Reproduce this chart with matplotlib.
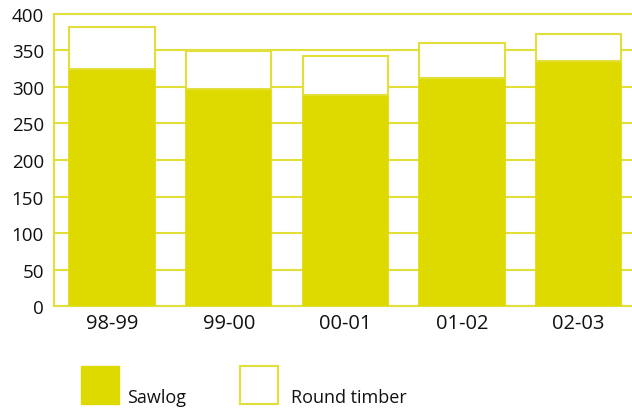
import matplotlib
matplotlib.use("Agg")
import matplotlib.pyplot as plt
from matplotlib.patches import Rectangle

seasons = ["98-99", "99-00", "00-01", "01-02", "02-03"]
sawlog = [324, 297, 289, 312, 335]
round_timber = [58, 52, 53, 48, 37]

yellow = "#DEDA00"
line = "#E3DF3A"

plt.rcParams["font.family"] = ["Open Sans", "DejaVu Sans"]

fig = plt.figure(figsize=(6.32, 4.10), dpi=100)
ax = fig.add_axes([0.085, 0.2505, 0.923, 0.7135])

x = range(len(seasons))
ax.bar(x, sawlog, 0.73, color=yellow, edgecolor=yellow, linewidth=1.2, zorder=3)
ax.bar(x, round_timber, 0.73, bottom=sawlog, color="white", edgecolor=line,
       linewidth=1.5, zorder=3)

ax.set_xlim(-0.5, 4.5)
ax.set_ylim(0, 400)
ax.set_yticks(range(0, 401, 50))
ax.set_xticks(list(x))
ax.set_xticklabels(seasons)
ax.yaxis.grid(True, color=line, linewidth=1.5, zorder=0)
ax.set_axisbelow(True)
for side in ["left", "bottom", "top"]:
    ax.spines[side].set_color(line)
    ax.spines[side].set_linewidth(1.5)
ax.spines["right"].set_visible(False)
ax.tick_params(axis="both", length=0, colors="#111111")
ax.tick_params(axis="y", pad=7, labelsize=13.5)
ax.tick_params(axis="x", pad=5, labelsize=14.5)

# legend boxes below the plot
W, H = 632, 410
fig.add_artist(Rectangle((81 / W, 1 - 405 / H), 38 / W, 38 / H,
                         transform=fig.transFigure, facecolor=yellow, edgecolor=yellow))
fig.add_artist(Rectangle((239.5 / W, 1 - 404.5 / H), 38.5 / W, 37.5 / H,
                         transform=fig.transFigure, facecolor="white", edgecolor=line,
                         linewidth=1.5))
fig.text(127 / W, 1 - 398 / H, "Sawlog", fontsize=13, va="center", color="#111111")
fig.text(291 / W, 1 - 398 / H, "Round timber", fontsize=13, va="center", color="#111111")

fig.savefig("out.png", dpi=100)
